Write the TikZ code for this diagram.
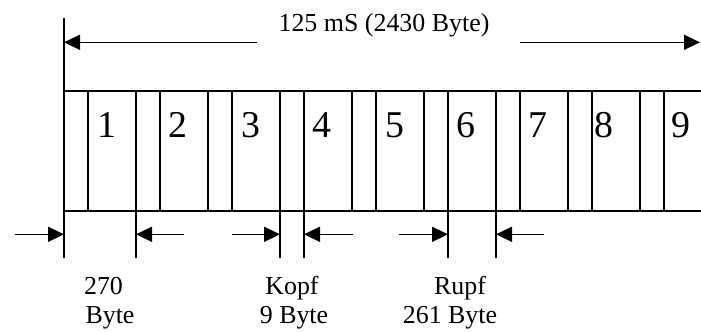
\documentclass[tikz,border=0pt]{standalone}
\usepackage{fontspec}
\setmainfont{Liberation Serif}
\usetikzlibrary{arrows.meta}
\begin{document}
\begin{tikzpicture}[x=1bp,y=-1bp,line width=1.4bp,
  lbl/.style={font=\fontsize{26}{30}\selectfont,inner sep=0pt,anchor=base},
  num/.style={font=\fontsize{38}{40}\selectfont,inner sep=0pt,anchor=base},
  dimarrow/.style={-{Triangle[length=16bp,width=15bp]},line width=1.5bp}]
\useasboundingbox (0,0) rectangle (701,331);
% frame
\draw (64,18) -- (64,258);
\draw (64,91) -- (701,91);
\draw (64,211) -- (701,211);
\foreach \s in {64,136,...,640}{
  \draw (\s,91) -- (\s,211);
  \draw (\s+24,91) -- (\s+24,211);
}
\foreach \x in {136,280,304,448,496}{\draw (\x,211) -- (\x,258);}
% numbers
\foreach \n/\x in {1/106.7,2/178,3/251,4/322,5/394.5,6/466,7/538,8/604,9/681}{
  \node[num] (n\n) at (\x,137) {\n};
}
% top dimension
\node[lbl] (total) at (384,31) {125 mS (2430 Byte)};
\coordinate (tl0) at (257,42.3);
\coordinate (tl1) at (64,42.3);
\coordinate (tr0) at (520,42.3);
\coordinate (tr1) at (700,42.3);
\draw[dimarrow] (tl0) -- (tl1);
\draw[dimarrow] (tr0) -- (tr1);
% bottom dimensions
\coordinate (a0) at (15,234.3);  \coordinate (a1) at (64,234.3);
\coordinate (b0) at (184,234.3); \coordinate (b1) at (136,234.3);
\coordinate (c0) at (232,234.3); \coordinate (c1) at (280,234.3);
\coordinate (d0) at (353,234.3); \coordinate (d1) at (304,234.3);
\coordinate (e0) at (399,234.3); \coordinate (e1) at (448,234.3);
\coordinate (f0) at (544,234.3); \coordinate (f1) at (496,234.3);
\foreach \p in {a,b,c,d,e,f}{\draw[dimarrow] (\p0) -- (\p1);}
% labels
\node[lbl] (l270) at (103.5,294) {270};
\node[lbl] (lbyte) at (110,323) {Byte};
\node[lbl] (lkopf) at (292,294) {Kopf};
\node[lbl] (lkopfb) at (294,323) {9 Byte};
\node[lbl] (lrupf) at (460,294) {Rupf};
\node[lbl] (lrupfb) at (450,323) {261 Byte};
\end{tikzpicture}
\end{document}
